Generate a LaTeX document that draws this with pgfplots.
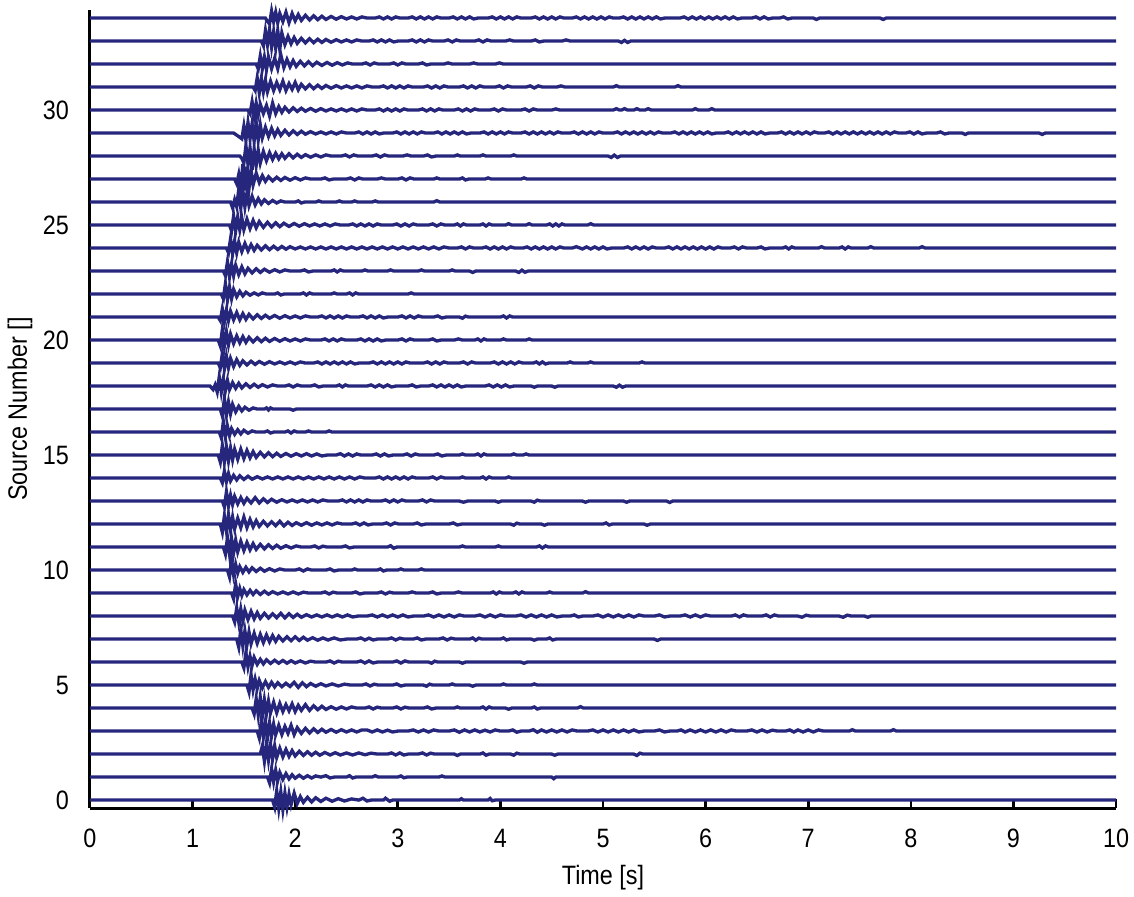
\documentclass[border=0pt]{standalone}
\usepackage{fontspec}
\setmainfont{Liberation Sans}[FakeStretch=0.88]
\usepackage{pgfplots}
\pgfplotsset{compat=1.18}
\definecolor{tracecol}{RGB}{38,38,125}
\pgfplotsset{tr/.style={color=tracecol, line width=1pt}}

\begin{document}
\begin{tikzpicture}
\begin{axis}[
    name=ax,
    scale only axis,
    width=10.857cm, height=8.445cm,
    xmin=0, xmax=10, ymin=-0.35, ymax=34.35,
    axis x line=bottom, axis y line=left,
    axis line style={-, black, line width=0.9pt},
    tick align=inside,
    major tick length=0.1cm,
    tick style={black, line width=0.8pt},
    xtick={0,1,...,10}, ytick={0,5,...,30},
    /pgf/number format/assume math mode=true,
    tick label style={font=\fontsize{8}{10}\selectfont},
    xticklabel style={yshift=-0.1cm},
    yticklabel style={xshift=-0.1cm},
    label style={font=\fontsize{8}{10}\selectfont},
    xlabel={Time [s]},
    ylabel={Source Number []},
    x label style={at={(axis description cs:0.5,0)}, anchor=center, yshift=-0.74cm},
    y label style={at={(axis description cs:0,0.5)}, anchor=center, yshift=0.74cm},
    clip=false,
]

% trace 0
\addplot[tr] coordinates {(0,0)(1.78,0)(1.80,-0.30)(1.82,0.40)(1.84,-0.35)(1.86,0.35)(1.88,-0.40)(1.90,0.30)(1.92,-0.30)(1.94,0.25)(1.96,-0.20)(1.99,0.30)(2.02,-0.15)(2.05,0.15)(2.08,-0.10)(2.12,0.12)(2.16,-0.08)(2.20,0.10)(2.25,-0.06)(2.30,0.08)(2.36,-0.05)(2.42,0.06)(2.48,-0.04)(2.55,0.05)(2.62,0)(2.66,0.08)(2.70,-0.04)(2.74,0)(2.86,0)(2.88,0.08)(2.92,-0.05)(2.95,0)(3.60,0)(3.62,0.06)(3.64,0)(3.88,0)(3.90,0.07)(3.92,-0.03)(3.95,0)(10,0)};
% trace 1
\addplot[tr] coordinates {(0,1)(1.73,1)(1.75,0.75)(1.77,1.35)(1.79,0.80)(1.81,1.30)(1.83,0.85)(1.85,1.20)(1.88,0.90)(1.91,1.15)(1.94,0.92)(1.97,1.10)(2.00,0.95)(2.04,1.08)(2.08,0.95)(2.12,1.06)(2.16,0.96)(2.20,1.05)(2.25,1)(2.30,1.06)(2.34,0.96)(2.38,1)(2.50,1)(2.53,1.06)(2.56,0.96)(2.59,1)(2.75,1)(2.78,1.06)(2.81,1)(3.00,1)(3.03,1.05)(3.06,0.97)(3.09,1)(3.40,1)(3.43,1.05)(3.46,1)(4.50,1)(4.52,0.93)(4.54,1)(10,1)};
% trace 2
\addplot[tr] coordinates {(0,2)(1.66,2)(1.68,2.35)(1.70,1.70)(1.72,2.45)(1.74,1.75)(1.76,2.40)(1.78,1.80)(1.80,2.35)(1.82,1.85)(1.85,2.25)(1.88,1.88)(1.91,2.20)(1.94,1.90)(1.97,2.15)(2.00,1.92)(2.04,2.12)(2.08,1.94)(2.12,2.10)(2.16,1.95)(2.20,2.08)(2.24,1.95)(2.29,2.07)(2.34,1.96)(2.39,2.06)(2.44,1.96)(2.50,2.05)(2.56,1.96)(2.62,2.05)(2.68,1.97)(2.74,2.04)(2.80,2)(2.90,2)(2.94,2.05)(2.98,1.96)(3.02,2.05)(3.06,1.96)(3.10,2)(3.20,2)(3.24,2.05)(3.28,1.96)(3.32,2.04)(3.36,2)(3.55,2)(3.58,1.94)(3.61,2)(3.80,2)(3.83,2.05)(3.86,1.95)(3.89,2)(4.10,2)(4.13,1.95)(4.16,2.04)(4.19,2)(4.50,2)(4.53,1.95)(4.56,2)(5.30,2)(5.33,1.94)(5.36,2.04)(5.39,2)(10,2)};
% trace 3
\addplot[tr] coordinates {(0,3)(1.63,3)(1.65,2.70)(1.67,3.45)(1.69,2.75)(1.71,3.40)(1.73,2.70)(1.75,3.35)(1.77,2.80)(1.79,3.30)(1.81,2.85)(1.84,3.25)(1.87,2.85)(1.90,3.20)(1.93,2.90)(1.96,3.25)(1.99,2.85)(2.02,3.15)(2.06,2.90)(2.10,3.12)(2.14,2.92)(2.18,3.10)(2.22,2.94)(2.26,3.08)(2.30,2.95)(2.35,3.07)(2.40,2.95)(2.45,3.06)(2.50,2.96)(2.55,3.05)(2.60,2.96)(2.65,3.05)(2.70,3.05)(2.75,2.96)(2.80,3.05)(2.85,2.96)(2.90,3.04)(2.95,2.96)(3.00,3)(3.10,3)(3.15,3.05)(3.20,2.96)(3.25,3.05)(3.30,2.96)(3.35,3.05)(3.40,3)(3.50,3)(3.55,3.05)(3.60,2.95)(3.65,3.05)(3.70,2.96)(3.75,3.05)(3.80,2.96)(3.85,3.04)(3.90,2.96)(3.95,3.05)(4.00,3)(4.08,3)(4.12,3.05)(4.16,2.95)(4.20,3)(4.28,3)(4.32,3.06)(4.36,2.95)(4.40,3.05)(4.45,2.96)(4.50,3.05)(4.55,2.96)(4.60,3.05)(4.65,2.96)(4.70,3.05)(4.75,3)(4.85,3)(4.90,3.05)(4.95,2.96)(5.00,3.05)(5.05,2.96)(5.10,3.05)(5.15,2.96)(5.20,3.05)(5.25,2.96)(5.30,3.05)(5.35,2.96)(5.40,3)(5.50,3)(5.55,3.05)(5.60,2.96)(5.65,3)(5.72,3)(5.76,3.05)(5.80,2.96)(5.85,3.05)(5.90,2.96)(5.95,3.05)(6.00,2.96)(6.05,3.05)(6.10,2.96)(6.15,3.05)(6.20,2.96)(6.25,3.05)(6.30,3)(6.40,3)(6.45,3.05)(6.50,2.96)(6.55,3.05)(6.60,2.96)(6.65,3.04)(6.70,3)(6.78,3)(6.82,3.05)(6.86,2.96)(6.90,3.05)(6.95,2.96)(7.00,3.05)(7.05,2.96)(7.10,3.05)(7.15,3)(7.40,3)(7.43,3.06)(7.46,3)(7.80,3)(7.83,3.06)(7.86,3)(10,3)};
% trace 4
\addplot[tr] coordinates {(0,4)(1.58,4)(1.60,3.75)(1.62,4.40)(1.64,3.70)(1.66,4.45)(1.68,3.65)(1.70,4.35)(1.72,3.75)(1.74,4.30)(1.76,3.80)(1.79,4.25)(1.82,3.80)(1.85,4.20)(1.88,3.85)(1.91,4.15)(1.94,3.88)(1.97,4.18)(2.00,3.85)(2.03,4.12)(2.06,3.90)(2.10,4.15)(2.14,3.90)(2.18,4.10)(2.22,3.93)(2.26,4.08)(2.30,3.94)(2.35,4.06)(2.40,3.95)(2.45,4.05)(2.50,3.96)(2.55,4.05)(2.60,4)(2.68,4)(2.72,4.05)(2.76,3.96)(2.80,4.04)(2.84,4)(2.95,4)(2.99,4.05)(3.03,3.96)(3.07,4.04)(3.11,4)(3.25,4)(3.29,4.05)(3.33,3.96)(3.37,4)(3.55,4)(3.58,4.05)(3.61,4)(3.80,4)(3.83,4.05)(3.86,3.96)(3.89,4.05)(3.92,4)(4.05,4)(4.08,3.95)(4.11,4)(4.30,4)(4.33,4.05)(4.36,3.96)(4.39,4)(4.75,4)(4.78,4.06)(4.81,4)(10,4)};
% trace 5
\addplot[tr] coordinates {(0,5)(1.53,5)(1.55,4.70)(1.57,5.45)(1.59,4.80)(1.61,5.25)(1.63,4.85)(1.65,5.20)(1.68,4.88)(1.71,5.15)(1.74,4.90)(1.77,5.12)(1.80,4.92)(1.83,5.10)(1.87,4.93)(1.91,5.08)(1.95,4.94)(1.99,5.12)(2.03,4.90)(2.07,5.10)(2.11,4.93)(2.15,5.07)(2.20,4.95)(2.25,5.06)(2.30,4.96)(2.36,5.05)(2.42,4.96)(2.48,5.04)(2.54,5)(2.65,5)(2.69,5.05)(2.73,4.96)(2.77,5.04)(2.81,5)(2.95,5)(2.99,5.05)(3.03,4.96)(3.07,5)(3.25,5)(3.28,4.95)(3.31,5.04)(3.34,5)(3.50,5)(3.53,5.05)(3.56,5)(3.70,5)(3.73,4.95)(3.76,5)(4.00,5)(4.03,5.05)(4.06,5)(4.30,5)(4.33,5.05)(4.36,5)(10,5)};
% trace 6
\addplot[tr] coordinates {(0,6)(1.48,6)(1.50,5.75)(1.52,6.40)(1.54,5.80)(1.56,6.25)(1.58,5.85)(1.60,6.20)(1.63,5.90)(1.66,6.12)(1.69,5.92)(1.72,6.10)(1.76,5.94)(1.80,6.08)(1.84,5.95)(1.88,6.07)(1.92,5.95)(1.96,6.06)(2.00,5.96)(2.05,6.05)(2.10,5.96)(2.15,6.04)(2.20,6)(2.30,6)(2.34,6.05)(2.38,5.96)(2.42,6.04)(2.46,6)(2.60,6)(2.64,6.05)(2.68,5.96)(2.72,6.05)(2.76,5.96)(2.80,6)(2.95,6)(2.99,6.05)(3.03,5.96)(3.07,6.05)(3.11,6)(3.30,6)(3.33,5.95)(3.36,6.04)(3.39,6)(3.60,6)(3.63,5.95)(3.66,6)(4.20,6)(4.23,5.95)(4.26,6)(10,6)};
% trace 7
\addplot[tr] coordinates {(0,7)(1.43,7)(1.45,6.65)(1.47,7.40)(1.49,6.70)(1.51,7.35)(1.53,6.75)(1.55,7.30)(1.57,6.80)(1.60,7.25)(1.63,6.82)(1.66,7.20)(1.69,6.85)(1.72,7.18)(1.75,6.88)(1.78,7.15)(1.81,6.90)(1.84,7.12)(1.88,6.92)(1.92,7.10)(1.96,6.93)(2.00,7.10)(2.04,6.94)(2.08,7.08)(2.12,6.95)(2.17,7.06)(2.22,6.95)(2.27,7.05)(2.32,6.96)(2.38,7.05)(2.44,6.96)(2.50,7)(2.60,7)(2.64,7.05)(2.68,6.96)(2.72,7.04)(2.76,6.96)(2.80,7)(2.90,7)(2.94,7.05)(2.98,6.96)(3.02,7.04)(3.06,7)(3.15,7)(3.19,7.05)(3.23,6.96)(3.27,7)(3.40,7)(3.44,7.05)(3.48,6.96)(3.52,7.04)(3.56,7)(3.70,7)(3.73,7.05)(3.76,6.95)(3.79,7.04)(3.82,7)(4.00,7)(4.03,7.05)(4.06,6.96)(4.09,7)(4.30,7)(4.33,6.95)(4.36,7)(4.45,7)(4.48,7.05)(4.51,6.96)(4.54,7)(5.50,7)(5.53,6.94)(5.56,7)(10,7)};
% trace 8
\addplot[tr] coordinates {(0,8)(1.39,8)(1.41,7.75)(1.43,8.35)(1.45,7.75)(1.47,8.30)(1.49,7.80)(1.51,8.25)(1.54,7.85)(1.57,8.20)(1.60,7.88)(1.63,8.15)(1.66,7.90)(1.70,8.12)(1.74,7.92)(1.78,8.10)(1.82,7.93)(1.86,8.12)(1.90,7.92)(1.94,8.10)(1.98,7.94)(2.02,8.08)(2.06,7.95)(2.11,8.06)(2.16,7.96)(2.21,8.05)(2.26,7.96)(2.31,8.05)(2.36,7.96)(2.41,8.05)(2.46,7.96)(2.51,8.05)(2.56,7.96)(2.61,8)(2.70,8)(2.75,8.05)(2.80,7.96)(2.85,8.05)(2.90,7.96)(2.95,8.05)(3.00,7.96)(3.05,8.05)(3.10,7.96)(3.15,8)(3.25,8)(3.30,8.05)(3.35,7.96)(3.40,8.05)(3.45,7.96)(3.50,8.05)(3.55,7.96)(3.60,8.05)(3.65,8)(3.75,8)(3.80,8.05)(3.85,7.96)(3.90,8.05)(3.95,7.96)(4.00,8.05)(4.05,8)(4.15,8)(4.20,8.05)(4.25,7.96)(4.30,8.05)(4.35,7.96)(4.40,8.05)(4.45,7.96)(4.50,8.05)(4.55,7.96)(4.60,8)(4.68,8)(4.72,8.05)(4.76,7.96)(4.80,8)(4.90,8)(4.95,8.05)(5.00,7.96)(5.05,8.05)(5.10,7.96)(5.15,8.05)(5.20,7.96)(5.25,8.05)(5.30,7.96)(5.35,8.05)(5.40,8)(5.50,8)(5.55,8.05)(5.60,7.96)(5.65,8)(5.75,8)(5.80,8.05)(5.85,7.96)(5.90,8.05)(5.95,7.96)(6.00,8.05)(6.05,8)(6.25,8)(6.29,8.05)(6.33,7.96)(6.37,8.05)(6.41,8)(6.55,8)(6.59,8.05)(6.63,7.96)(6.67,8.05)(6.71,8)(6.90,8)(6.94,7.95)(6.98,8.04)(7.02,8)(7.30,8)(7.34,7.95)(7.38,8.04)(7.42,8)(7.55,8)(7.58,7.95)(7.61,8)(10,8)};
% trace 9
\addplot[tr] coordinates {(0,9)(1.38,9)(1.40,8.75)(1.42,9.40)(1.44,8.85)(1.46,9.20)(1.48,8.90)(1.50,9.15)(1.53,8.92)(1.56,9.12)(1.59,8.94)(1.62,9.10)(1.66,8.94)(1.70,9.08)(1.74,8.95)(1.78,9.06)(1.83,8.96)(1.88,9.05)(1.93,8.96)(1.98,9.05)(2.03,8.96)(2.08,9.04)(2.13,9)(2.25,9)(2.29,9.05)(2.33,8.96)(2.37,9.04)(2.41,9)(2.55,9)(2.59,9.05)(2.63,8.96)(2.67,9)(2.80,9)(2.84,9.05)(2.88,8.96)(2.92,9.04)(2.96,9)(3.10,9)(3.14,9.05)(3.18,9)(3.30,9)(3.34,9.05)(3.38,8.96)(3.42,9)(3.55,9)(3.59,9.05)(3.63,9)(3.90,9)(3.93,9.05)(3.96,8.96)(3.99,9.05)(4.02,9)(4.12,9)(4.15,9.05)(4.18,8.96)(4.21,9.05)(4.24,9)(4.45,9)(4.48,9.05)(4.51,9)(4.80,9)(4.83,9.06)(4.86,9)(10,9)};
% trace 10
\addplot[tr] coordinates {(0,10)(1.34,10)(1.36,9.70)(1.38,10.45)(1.40,9.80)(1.42,10.25)(1.44,9.88)(1.46,10.15)(1.49,9.90)(1.52,10.12)(1.55,9.92)(1.58,10.10)(1.62,9.94)(1.66,10.08)(1.70,9.95)(1.75,10.06)(1.80,9.96)(1.85,10.05)(1.90,10)(2.00,10)(2.04,10.05)(2.08,9.96)(2.12,10.05)(2.16,10)(2.30,10)(2.34,10.05)(2.38,9.96)(2.42,10)(2.55,10)(2.58,10.05)(2.61,10)(2.80,10)(2.83,10.05)(2.86,9.96)(2.89,10)(3.00,10)(3.03,10.05)(3.06,10)(3.20,10)(3.23,10.05)(3.26,10)(10,10)};
% trace 11
\addplot[tr] coordinates {(0,11)(1.30,11)(1.32,10.70)(1.34,11.40)(1.36,10.70)(1.38,11.35)(1.40,10.75)(1.42,11.30)(1.44,10.80)(1.47,11.25)(1.50,10.85)(1.53,11.20)(1.56,10.88)(1.59,11.15)(1.62,10.90)(1.66,11.12)(1.70,10.92)(1.74,11.10)(1.78,10.94)(1.82,11.08)(1.86,10.95)(1.91,11.06)(1.96,10.96)(2.01,11.05)(2.06,11)(2.15,11)(2.19,11.05)(2.23,10.96)(2.27,11.04)(2.31,11)(2.45,11)(2.49,11.05)(2.53,10.96)(2.57,11)(2.90,11)(2.93,11.06)(2.96,10.95)(2.99,11)(3.60,11)(3.63,11.05)(3.66,11)(3.95,11)(3.98,11.05)(4.01,11)(4.35,11)(4.38,11.05)(4.41,10.96)(4.44,11.05)(4.47,11)(10,11)};
% trace 12
\addplot[tr] coordinates {(0,12)(1.27,12)(1.29,11.65)(1.31,12.35)(1.33,11.70)(1.35,12.40)(1.37,11.75)(1.39,12.30)(1.41,11.80)(1.44,12.25)(1.47,11.85)(1.50,12.30)(1.53,11.85)(1.56,12.20)(1.59,11.88)(1.62,12.15)(1.65,11.90)(1.69,12.12)(1.73,11.92)(1.77,12.10)(1.81,11.93)(1.85,12.12)(1.89,11.92)(1.93,12.08)(1.97,11.94)(2.01,12.06)(2.06,11.95)(2.11,12.06)(2.16,11.95)(2.21,12.05)(2.26,11.96)(2.31,12.05)(2.36,11.96)(2.41,12.05)(2.46,12)(2.55,12)(2.59,12.05)(2.63,11.96)(2.67,12.05)(2.71,11.96)(2.75,12)(2.85,12)(2.89,12.05)(2.93,11.96)(2.97,12.05)(3.01,12)(3.15,12)(3.19,12.05)(3.23,11.96)(3.27,12)(3.50,12)(3.54,12.05)(3.58,11.96)(3.62,12)(4.10,12)(4.13,11.95)(4.16,12.04)(4.19,12)(4.40,12)(4.43,11.95)(4.46,12)(5.00,12)(5.03,12.05)(5.06,11.96)(5.09,12)(5.40,12)(5.43,11.95)(5.46,12)(10,12)};
% trace 13
\addplot[tr] coordinates {(0,13)(1.29,13)(1.31,12.75)(1.33,13.40)(1.35,12.80)(1.37,13.25)(1.39,12.85)(1.41,13.20)(1.44,12.88)(1.47,13.15)(1.50,12.90)(1.53,13.12)(1.57,12.92)(1.61,13.15)(1.65,12.92)(1.69,13.10)(1.73,12.94)(1.77,13.08)(1.82,12.95)(1.87,13.06)(1.92,12.96)(1.97,13.05)(2.02,12.96)(2.07,13.05)(2.12,12.96)(2.17,13.05)(2.22,12.96)(2.27,13.05)(2.32,13)(2.42,13)(2.46,13.05)(2.50,12.96)(2.54,13.05)(2.58,12.96)(2.62,13.05)(2.66,12.96)(2.70,13.05)(2.74,13)(2.84,13)(2.88,13.05)(2.92,12.96)(2.96,13.05)(3.00,12.96)(3.04,13.05)(3.08,13)(3.20,13)(3.24,13.05)(3.28,12.96)(3.32,13.05)(3.36,13)(3.60,13)(3.64,12.95)(3.68,13)(3.95,13)(3.98,12.95)(4.01,13)(4.30,13)(4.33,12.95)(4.36,13.04)(4.39,13)(4.80,13)(4.83,12.95)(4.86,13)(5.20,13)(5.23,12.95)(5.26,13)(5.62,13)(5.65,12.94)(5.68,13)(10,13)};
% trace 14
\addplot[tr] coordinates {(0,14)(1.27,14)(1.29,13.80)(1.31,14.30)(1.33,13.85)(1.35,14.20)(1.37,13.88)(1.40,14.12)(1.43,13.92)(1.46,14.10)(1.50,13.94)(1.54,14.08)(1.58,13.95)(1.63,14.06)(1.68,13.96)(1.73,14.05)(1.78,13.96)(1.83,14.05)(1.88,13.96)(1.93,14.05)(1.98,13.96)(2.03,14.05)(2.08,13.96)(2.13,14.05)(2.18,13.96)(2.23,14.05)(2.28,13.96)(2.33,14.05)(2.38,13.96)(2.43,14.05)(2.48,13.96)(2.53,14.05)(2.58,13.96)(2.63,14.05)(2.68,14)(2.78,14)(2.82,14.05)(2.86,13.96)(2.90,14.05)(2.94,13.96)(2.98,14.05)(3.02,13.96)(3.06,14.05)(3.10,13.96)(3.14,14.05)(3.18,14)(3.30,14)(3.34,14.05)(3.38,13.96)(3.42,14.05)(3.46,14)(3.60,14)(3.63,14.05)(3.66,14)(3.80,14)(3.83,14.05)(3.86,13.96)(3.89,14.05)(3.92,14)(4.05,14)(4.08,14.05)(4.11,14)(10,14)};
% trace 15
\addplot[tr] coordinates {(0,15)(1.25,15)(1.27,14.70)(1.29,15.40)(1.31,14.70)(1.33,15.35)(1.35,14.75)(1.37,15.30)(1.39,14.80)(1.41,15.25)(1.44,14.82)(1.47,15.25)(1.50,14.85)(1.53,15.20)(1.56,14.88)(1.59,15.15)(1.62,14.90)(1.66,15.12)(1.70,14.92)(1.74,15.10)(1.78,14.93)(1.82,15.08)(1.86,14.94)(1.91,15.07)(1.96,14.95)(2.01,15.06)(2.06,14.96)(2.11,15.06)(2.16,14.96)(2.21,15.05)(2.26,14.96)(2.31,15)(2.40,15)(2.44,15.06)(2.48,14.96)(2.52,15.05)(2.56,14.96)(2.60,15.05)(2.64,15)(2.75,15)(2.79,15.05)(2.83,14.96)(2.87,15.05)(2.91,14.96)(2.95,15)(3.05,15)(3.09,15.05)(3.13,14.96)(3.17,15.05)(3.21,15)(3.35,15)(3.39,15.05)(3.43,14.96)(3.47,15)(3.60,15)(3.63,15.05)(3.66,15)(3.75,15)(3.78,15.05)(3.81,14.96)(3.84,15.05)(3.87,15)(4.10,15)(4.13,15.05)(4.16,15)(4.22,15)(4.25,15.05)(4.28,15)(10,15)};
% trace 16
\addplot[tr] coordinates {(0,16)(1.26,16)(1.28,15.75)(1.30,16.45)(1.32,15.80)(1.34,16.25)(1.36,15.85)(1.38,16.15)(1.41,15.90)(1.44,16.10)(1.47,15.92)(1.50,16.08)(1.54,15.95)(1.58,16.05)(1.62,16)(1.70,16)(1.73,16.05)(1.76,15.96)(1.79,16)(1.90,16)(1.93,16.05)(1.96,15.96)(1.99,16.05)(2.02,16)(2.10,16)(2.13,16.05)(2.16,16)(2.30,16)(2.33,16.05)(2.36,16)(10,16)};
% trace 17
\addplot[tr] coordinates {(0,17)(1.27,17)(1.29,16.70)(1.31,17.45)(1.33,16.75)(1.35,17.30)(1.37,16.80)(1.39,17.20)(1.42,16.88)(1.45,17.12)(1.48,16.92)(1.51,17.08)(1.55,16.95)(1.59,17.05)(1.63,17)(1.70,17)(1.72,17.05)(1.74,16.96)(1.76,17.05)(1.78,17)(1.95,17)(1.98,16.95)(2.01,17)(10,17)};
% trace 18
\addplot[tr] coordinates {(0,18)(1.17,18)(1.20,17.85)(1.22,18.05)(1.24,17.75)(1.26,18.40)(1.28,17.75)(1.30,18.30)(1.32,17.80)(1.34,18.25)(1.36,17.85)(1.39,18.15)(1.42,17.90)(1.45,18.12)(1.48,17.92)(1.52,18.10)(1.56,17.94)(1.60,18.08)(1.64,17.95)(1.68,18.06)(1.73,17.96)(1.78,18.05)(1.83,18)(1.90,18)(1.94,18.05)(1.98,17.96)(2.02,18.05)(2.06,18)(2.15,18)(2.19,18.05)(2.23,17.96)(2.27,18)(2.40,18)(2.43,18.05)(2.46,17.96)(2.49,18.05)(2.52,18)(2.70,18)(2.74,18.05)(2.78,17.96)(2.82,18.05)(2.86,17.96)(2.90,18.05)(2.94,17.96)(2.98,18)(3.10,18)(3.14,18.05)(3.18,17.96)(3.22,18)(3.30,18)(3.34,18.05)(3.38,17.96)(3.42,18.05)(3.46,17.96)(3.50,18.05)(3.54,17.96)(3.58,18.05)(3.62,17.96)(3.66,18)(3.85,18)(3.89,18.05)(3.93,17.96)(3.97,18.05)(4.01,17.96)(4.05,18.05)(4.09,17.96)(4.13,18)(4.30,18)(4.33,17.95)(4.36,18)(4.50,18)(4.53,17.95)(4.56,18)(5.10,18)(5.13,17.95)(5.16,18.04)(5.19,17.95)(5.22,18)(10,18)};
% trace 19
\addplot[tr] coordinates {(0,19)(1.25,19)(1.27,18.80)(1.29,19.40)(1.31,18.75)(1.33,19.30)(1.35,18.80)(1.37,19.20)(1.40,18.85)(1.43,19.15)(1.46,18.90)(1.49,19.10)(1.53,18.92)(1.57,19.08)(1.61,18.94)(1.65,19.07)(1.70,18.95)(1.75,19.06)(1.80,18.96)(1.85,19.05)(1.90,18.96)(1.95,19.05)(2.00,18.96)(2.05,19.05)(2.10,19)(2.18,19)(2.22,19.05)(2.26,18.96)(2.30,19.05)(2.34,18.96)(2.38,19.05)(2.42,18.96)(2.46,19.05)(2.50,18.96)(2.54,19.05)(2.58,18.96)(2.62,19)(2.72,19)(2.76,19.05)(2.80,18.96)(2.84,19.05)(2.88,18.96)(2.92,19.05)(2.96,18.96)(3.00,19.05)(3.04,18.96)(3.08,19.05)(3.12,19)(3.25,19)(3.29,19.05)(3.33,18.96)(3.37,19.05)(3.41,18.96)(3.45,19.05)(3.49,19)(3.60,19)(3.64,19.05)(3.68,18.96)(3.72,19.05)(3.76,19)(3.90,19)(3.94,19.05)(3.98,18.96)(4.02,19.05)(4.06,18.96)(4.10,19.05)(4.14,18.96)(4.18,19.05)(4.22,19)(4.32,19)(4.35,19.05)(4.38,18.96)(4.41,19.05)(4.44,18.96)(4.47,19)(4.65,19)(4.68,19.05)(4.71,19)(4.85,19)(4.88,19.05)(4.91,19)(5.35,19)(5.38,19.05)(5.41,19)(10,19)};
% trace 20
\addplot[tr] coordinates {(0,20)(1.25,20)(1.27,19.75)(1.29,20.45)(1.31,19.75)(1.33,20.35)(1.35,19.80)(1.37,20.25)(1.40,19.85)(1.43,20.18)(1.46,19.88)(1.49,20.15)(1.52,19.90)(1.55,20.12)(1.59,19.92)(1.63,20.10)(1.67,19.93)(1.71,20.08)(1.75,19.94)(1.80,20.07)(1.85,19.95)(1.90,20.06)(1.95,19.96)(2.00,20.05)(2.05,19.96)(2.10,20.05)(2.15,20)(2.25,20)(2.29,20.05)(2.33,19.96)(2.37,20.05)(2.41,19.96)(2.45,20.05)(2.49,20)(2.60,20)(2.64,20.05)(2.68,19.96)(2.72,20.05)(2.76,19.96)(2.80,20.05)(2.84,19.96)(2.88,20)(3.00,20)(3.04,20.05)(3.08,19.96)(3.12,20.05)(3.16,20)(3.30,20)(3.34,20.05)(3.38,19.96)(3.42,20)(3.55,20)(3.59,20.05)(3.63,20)(3.75,20)(3.78,20.05)(3.81,19.96)(3.84,20.05)(3.87,20)(4.00,20)(4.03,20.05)(4.06,20)(4.25,20)(4.28,20.05)(4.31,20)(10,20)};
% trace 21
\addplot[tr] coordinates {(0,21)(1.25,21)(1.27,20.85)(1.29,21.35)(1.31,20.80)(1.33,21.30)(1.35,20.85)(1.37,21.25)(1.40,20.88)(1.43,21.20)(1.46,20.88)(1.49,21.15)(1.52,20.90)(1.55,21.12)(1.59,20.92)(1.63,21.10)(1.67,20.94)(1.71,21.08)(1.75,20.95)(1.80,21.07)(1.85,20.95)(1.90,21.06)(1.95,20.96)(2.00,21.05)(2.05,20.96)(2.10,21.05)(2.15,21)(2.22,21)(2.26,21.05)(2.30,20.96)(2.34,21.05)(2.38,20.96)(2.42,21.05)(2.46,20.96)(2.50,21.05)(2.54,21)(2.62,21)(2.66,21.05)(2.70,20.96)(2.74,21.05)(2.78,20.96)(2.82,21.05)(2.86,20.96)(2.90,21)(3.00,21)(3.04,21.05)(3.08,20.96)(3.12,21.05)(3.16,20.96)(3.20,21.05)(3.24,21)(3.35,21)(3.39,21.05)(3.43,20.96)(3.47,21)(3.60,21)(3.63,20.95)(3.66,21.04)(3.69,21)(4.00,21)(4.03,21.05)(4.06,20.96)(4.09,21.05)(4.12,21)(10,21)};
% trace 22
\addplot[tr] coordinates {(0,22)(1.28,22)(1.30,21.80)(1.32,22.45)(1.34,21.75)(1.36,22.30)(1.38,21.80)(1.40,22.20)(1.43,21.88)(1.46,22.12)(1.49,21.92)(1.52,22.08)(1.56,21.95)(1.60,22.05)(1.64,21.96)(1.68,22.05)(1.72,22)(1.80,22)(1.83,22.05)(1.86,21.96)(1.89,22)(2.05,22)(2.08,22.05)(2.11,21.96)(2.14,22.05)(2.17,22)(2.35,22)(2.38,22.05)(2.41,22)(2.50,22)(2.53,22.05)(2.56,21.96)(2.59,22.05)(2.62,22)(3.10,22)(3.13,22.05)(3.16,22)(10,22)};
% trace 23
\addplot[tr] coordinates {(0,23)(1.30,23)(1.32,22.80)(1.34,23.40)(1.36,22.75)(1.38,23.30)(1.40,22.80)(1.42,23.25)(1.45,22.85)(1.48,23.18)(1.51,22.88)(1.54,23.12)(1.58,22.92)(1.62,23.10)(1.66,22.94)(1.70,23.08)(1.75,22.95)(1.80,23.06)(1.85,22.96)(1.90,23.05)(1.95,23)(2.05,23)(2.09,23.05)(2.13,22.96)(2.17,23)(2.35,23)(2.38,23.05)(2.41,22.96)(2.44,23.05)(2.47,23)(2.65,23)(2.68,23.05)(2.71,23)(2.90,23)(2.93,23.05)(2.96,23)(3.20,23)(3.23,23.05)(3.26,23)(3.50,23)(3.53,23.05)(3.56,23)(3.70,23)(3.73,22.94)(3.76,23)(4.15,23)(4.18,22.94)(4.21,23.04)(4.24,22.95)(4.27,23)(10,23)};
% trace 24
\addplot[tr] coordinates {(0,24)(1.33,24)(1.35,23.80)(1.37,24.40)(1.39,23.75)(1.41,24.30)(1.43,23.80)(1.45,24.25)(1.48,23.85)(1.51,24.20)(1.54,23.88)(1.57,24.15)(1.60,23.90)(1.63,24.12)(1.67,23.92)(1.71,24.10)(1.75,23.93)(1.79,24.08)(1.83,23.94)(1.87,24.07)(1.91,23.95)(1.95,24.06)(2.00,23.96)(2.05,24.05)(2.10,23.96)(2.15,24.05)(2.20,23.96)(2.25,24.05)(2.30,23.96)(2.35,24.05)(2.40,23.96)(2.45,24.05)(2.50,23.96)(2.55,24.05)(2.60,23.96)(2.65,24.05)(2.70,23.96)(2.75,24.05)(2.80,23.96)(2.85,24.05)(2.90,23.96)(2.95,24.05)(3.00,23.96)(3.05,24.05)(3.10,23.96)(3.15,24.05)(3.20,23.96)(3.25,24.05)(3.30,23.96)(3.35,24.05)(3.40,23.96)(3.45,24.05)(3.50,24)(3.58,24)(3.62,24.05)(3.66,23.96)(3.70,24.05)(3.74,24)(3.82,24)(3.86,24.05)(3.90,23.96)(3.94,24.05)(3.98,23.96)(4.02,24.05)(4.06,23.96)(4.10,24.05)(4.14,24)(4.22,24)(4.26,24.05)(4.30,23.96)(4.34,24.05)(4.38,23.96)(4.42,24.05)(4.46,23.96)(4.50,24.05)(4.54,23.96)(4.58,24.05)(4.62,24)(4.70,24)(4.74,24.06)(4.80,23.96)(4.84,24.05)(4.88,23.96)(4.92,24.05)(4.96,23.96)(5.00,24.05)(5.04,23.96)(5.08,24)(5.20,24)(5.24,24.05)(5.28,23.96)(5.32,24.05)(5.36,23.96)(5.40,24.05)(5.44,23.96)(5.48,24.05)(5.52,24)(5.60,24)(5.64,24.05)(5.68,23.96)(5.72,24.05)(5.76,23.96)(5.80,24.05)(5.84,23.96)(5.88,24.05)(5.92,23.96)(5.96,24.05)(6.00,23.96)(6.04,24.05)(6.08,23.96)(6.12,24.05)(6.16,24)(6.24,24)(6.28,24.05)(6.32,23.96)(6.36,24.05)(6.40,24)(6.50,24)(6.54,24.05)(6.58,23.96)(6.62,24)(6.75,24)(6.78,24.05)(6.81,23.96)(6.84,24.05)(6.87,24)(7.10,24)(7.13,24.06)(7.16,24)(7.30,24)(7.33,24.05)(7.36,23.96)(7.39,24.05)(7.42,24)(7.58,24)(7.61,24.06)(7.64,24)(8.08,24)(8.11,24.06)(8.14,24)(10,24)};
% trace 25
\addplot[tr] coordinates {(0,25)(1.36,25)(1.38,24.75)(1.40,25.40)(1.42,24.75)(1.44,25.35)(1.46,24.80)(1.48,25.30)(1.50,24.80)(1.53,25.25)(1.56,24.85)(1.59,25.20)(1.62,24.88)(1.65,25.15)(1.69,24.90)(1.73,25.12)(1.77,24.92)(1.81,25.10)(1.85,24.93)(1.89,25.08)(1.94,24.94)(1.99,25.07)(2.04,24.95)(2.09,25.06)(2.14,24.96)(2.19,25.05)(2.24,24.96)(2.29,25.05)(2.34,24.96)(2.39,25.05)(2.44,25)(2.52,25)(2.56,25.05)(2.60,24.96)(2.64,25.05)(2.68,24.96)(2.72,25.05)(2.76,24.96)(2.80,25.05)(2.84,25)(2.95,25)(2.99,25.05)(3.03,24.96)(3.07,25.05)(3.11,24.96)(3.15,25.05)(3.19,25)(3.30,25)(3.34,25.05)(3.38,24.96)(3.42,25.05)(3.46,25)(3.55,25)(3.58,25.05)(3.61,24.96)(3.64,25.05)(3.67,25)(3.80,25)(3.83,25.05)(3.86,24.96)(3.89,25.05)(3.92,25)(4.05,25)(4.08,25.06)(4.11,25)(4.25,25)(4.28,25.06)(4.31,25)(4.45,25)(4.48,25.05)(4.51,24.96)(4.54,25.05)(4.57,24.96)(4.60,25.05)(4.63,25)(4.85,25)(4.88,25.06)(4.91,25)(10,25)};
% trace 26
\addplot[tr] coordinates {(0,26)(1.37,26)(1.39,25.75)(1.41,26.10)(1.43,25.80)(1.45,26.55)(1.47,25.75)(1.49,26.50)(1.51,25.80)(1.53,26.40)(1.55,25.85)(1.58,26.25)(1.61,25.88)(1.64,26.15)(1.67,25.92)(1.70,26.10)(1.74,25.94)(1.78,26.07)(1.82,25.96)(1.86,26.05)(1.90,26)(2.00,26)(2.03,26.05)(2.06,25.96)(2.09,26)(2.20,26)(2.23,26.05)(2.26,26)(2.40,26)(2.43,26.05)(2.46,26)(2.55,26)(2.58,26.05)(2.61,26)(2.75,26)(2.78,26.05)(2.81,26)(3.35,26)(3.38,26.06)(3.41,26)(10,26)};
% trace 27
\addplot[tr] coordinates {(0,27)(1.41,27)(1.43,26.80)(1.45,27.20)(1.47,26.60)(1.49,27.65)(1.51,26.50)(1.53,27.55)(1.55,26.60)(1.57,27.40)(1.59,26.75)(1.62,27.25)(1.65,26.85)(1.68,27.15)(1.71,26.90)(1.74,27.10)(1.78,26.92)(1.82,27.08)(1.86,26.94)(1.90,27.07)(1.95,26.95)(2.00,27.06)(2.05,26.96)(2.10,27.05)(2.15,27)(2.25,27)(2.29,27.05)(2.33,26.96)(2.37,27)(2.50,27)(2.54,27.05)(2.58,26.96)(2.62,27.05)(2.66,27)(2.80,27)(2.84,27.05)(2.88,27)(3.00,27)(3.04,27.05)(3.08,26.96)(3.12,27.05)(3.16,27)(3.35,27)(3.38,27.05)(3.41,27)(3.60,27)(3.63,27.05)(3.66,26.96)(3.69,27)(3.85,27)(3.88,27.05)(3.91,27)(4.20,27)(4.23,27.05)(4.26,27)(10,27)};
% trace 28
\addplot[tr] coordinates {(0,28)(1.46,28)(1.48,27.90)(1.50,27.70)(1.52,28.45)(1.54,27.65)(1.56,28.35)(1.58,27.40)(1.60,28.30)(1.62,27.60)(1.64,28.25)(1.66,27.70)(1.69,28.20)(1.72,27.80)(1.75,28.15)(1.78,27.85)(1.81,28.12)(1.84,27.88)(1.87,28.10)(1.90,27.90)(1.94,28.10)(1.98,27.92)(2.02,28.08)(2.06,27.94)(2.10,28.06)(2.15,27.95)(2.20,28.05)(2.25,27.96)(2.30,28.05)(2.35,28)(2.45,28)(2.49,28.05)(2.53,27.96)(2.57,28.05)(2.61,28)(2.75,28)(2.79,28.05)(2.83,27.96)(2.87,28.05)(2.91,28)(3.05,28)(3.09,28.05)(3.13,28)(3.25,28)(3.29,28.05)(3.33,27.96)(3.37,28)(3.55,28)(3.58,28.05)(3.61,28)(3.80,28)(3.83,28.05)(3.86,28)(4.10,28)(4.13,28.05)(4.16,28)(5.05,28)(5.08,27.94)(5.11,28.04)(5.14,27.94)(5.17,28)(10,28)};
% trace 29
\addplot[tr] coordinates {(0,29)(1.40,29)(1.45,28.85)(1.48,28.75)(1.50,29.30)(1.52,28.70)(1.54,29.45)(1.56,28.75)(1.58,29.40)(1.60,28.65)(1.62,29.45)(1.64,28.70)(1.66,29.35)(1.68,28.80)(1.71,29.25)(1.74,28.85)(1.77,29.20)(1.80,28.88)(1.83,29.15)(1.86,28.90)(1.90,29.12)(1.94,28.92)(1.98,29.10)(2.02,28.94)(2.06,29.08)(2.10,28.95)(2.15,29.06)(2.20,28.96)(2.25,29.05)(2.30,28.96)(2.35,29.05)(2.40,28.96)(2.45,29.05)(2.50,29)(2.58,29)(2.62,29.05)(2.66,28.96)(2.70,29.05)(2.74,28.96)(2.78,29.05)(2.82,28.96)(2.86,29)(2.95,29)(2.99,29.05)(3.03,28.96)(3.07,29.05)(3.11,28.96)(3.15,29.05)(3.19,28.96)(3.23,29.05)(3.27,29)(3.35,29)(3.39,29.05)(3.43,28.96)(3.47,29.05)(3.51,28.96)(3.55,29.05)(3.59,28.96)(3.63,29.05)(3.67,28.96)(3.71,29)(3.80,29)(3.84,29.05)(3.88,28.96)(3.92,29.05)(3.96,28.96)(4.00,29.05)(4.04,28.96)(4.08,29.05)(4.12,29)(4.20,29)(4.24,29.05)(4.28,28.96)(4.32,29.05)(4.36,28.96)(4.40,29.05)(4.44,28.96)(4.48,29.05)(4.52,28.96)(4.56,29.05)(4.60,29)(4.68,29)(4.72,29.05)(4.76,28.96)(4.80,29.05)(4.84,28.96)(4.88,29.05)(4.92,28.96)(4.96,29.05)(5.00,29)(5.10,29)(5.14,29.05)(5.18,28.96)(5.22,29.05)(5.26,28.96)(5.30,29.05)(5.34,28.96)(5.38,29.05)(5.42,28.96)(5.46,29.05)(5.50,28.96)(5.54,29.05)(5.58,29)(5.66,29)(5.70,29.05)(5.74,28.96)(5.78,29.05)(5.82,28.96)(5.86,29.05)(5.90,28.96)(5.94,29.05)(5.98,28.96)(6.02,29.05)(6.06,28.96)(6.10,29)(6.18,29)(6.22,29.05)(6.26,28.96)(6.30,29.05)(6.34,28.96)(6.38,29.05)(6.42,28.96)(6.46,29.05)(6.50,28.96)(6.54,29.05)(6.58,28.96)(6.62,29)(6.70,29)(6.74,29.05)(6.78,28.96)(6.82,29.05)(6.86,28.96)(6.90,29.05)(6.94,28.96)(6.98,29.05)(7.02,28.96)(7.06,29.05)(7.10,29)(7.16,29)(7.20,29.05)(7.24,28.96)(7.28,29.05)(7.32,28.96)(7.36,29.05)(7.40,28.96)(7.44,29.05)(7.48,28.96)(7.52,29.05)(7.56,28.96)(7.60,29.05)(7.64,28.96)(7.68,29.05)(7.72,28.96)(7.76,29.05)(7.80,28.96)(7.84,29.05)(7.88,29)(7.95,29)(7.99,29.05)(8.03,28.96)(8.07,29.05)(8.11,28.96)(8.15,29)(8.25,29)(8.29,29.05)(8.33,28.96)(8.37,29)(8.50,29)(8.53,28.94)(8.56,29)(9.25,29)(9.28,28.94)(9.31,29)(10,29)};
% trace 30
\addplot[tr] coordinates {(0,30)(1.54,30)(1.56,29.85)(1.58,30.35)(1.60,29.75)(1.62,30.30)(1.64,29.80)(1.66,30.25)(1.69,29.85)(1.72,30.20)(1.75,29.75)(1.78,30.30)(1.81,29.85)(1.84,30.15)(1.87,29.90)(1.90,30.12)(1.94,29.92)(1.98,30.10)(2.02,29.94)(2.06,30.08)(2.10,29.95)(2.15,30.07)(2.20,29.95)(2.25,30.06)(2.30,29.96)(2.35,30.05)(2.40,29.96)(2.45,30.05)(2.50,29.96)(2.55,30.05)(2.60,29.96)(2.65,30.05)(2.70,30)(2.78,30)(2.82,30.05)(2.86,29.96)(2.90,30.05)(2.94,29.96)(2.98,30.05)(3.02,29.96)(3.06,30.05)(3.10,30)(3.20,30)(3.24,30.05)(3.28,29.96)(3.32,30.05)(3.36,29.96)(3.40,30.05)(3.44,30)(3.55,30)(3.59,30.05)(3.63,29.96)(3.67,30.05)(3.71,29.96)(3.75,30.05)(3.79,30)(3.90,30)(3.94,30.05)(3.98,29.96)(4.02,30.05)(4.06,30)(4.20,30)(4.24,30.05)(4.28,29.96)(4.32,30.05)(4.36,30)(4.50,30)(4.54,30.05)(4.58,30)(5.10,30)(5.13,30.06)(5.16,30)(5.18,30)(5.21,30.06)(5.24,30)(5.30,30)(5.33,30.06)(5.36,30)(5.41,30)(5.44,30.06)(5.47,30)(5.87,30)(5.90,30.06)(5.93,30)(6.03,30)(6.06,30.06)(6.09,30)(10,30)};
% trace 31
\addplot[tr] coordinates {(0,31)(1.59,31)(1.61,30.85)(1.63,31.40)(1.65,30.75)(1.67,31.35)(1.69,30.80)(1.71,31.30)(1.73,30.80)(1.76,31.25)(1.79,30.85)(1.82,31.20)(1.85,30.88)(1.88,31.25)(1.91,30.85)(1.94,31.15)(1.97,30.90)(2.00,31.20)(2.03,30.88)(2.06,31.12)(2.10,30.92)(2.14,31.10)(2.18,30.93)(2.22,31.08)(2.26,30.94)(2.30,31.07)(2.35,30.95)(2.40,31.06)(2.45,30.96)(2.50,31.05)(2.55,30.96)(2.60,31.05)(2.65,30.96)(2.70,31.05)(2.75,31)(2.82,31)(2.86,31.05)(2.90,30.96)(2.94,31.05)(2.98,30.96)(3.02,31.05)(3.06,30.96)(3.10,31.05)(3.14,31)(3.25,31)(3.29,31.05)(3.33,30.96)(3.37,31.05)(3.41,30.96)(3.45,31.05)(3.49,31)(3.60,31)(3.64,31.05)(3.68,30.96)(3.72,31.05)(3.76,30.96)(3.80,31.05)(3.84,31)(3.95,31)(3.99,31.05)(4.03,30.96)(4.07,31.05)(4.11,31)(4.25,31)(4.29,31.05)(4.33,30.96)(4.37,31.05)(4.41,31)(4.55,31)(4.59,31.05)(4.63,31)(5.10,31)(5.13,31.06)(5.16,31)(5.70,31)(5.73,31.06)(5.76,31)(10,31)};
% trace 32
\addplot[tr] coordinates {(0,32)(1.62,32)(1.64,31.80)(1.66,32.35)(1.68,31.80)(1.70,32.30)(1.72,31.75)(1.74,32.30)(1.77,31.80)(1.80,32.25)(1.83,31.80)(1.86,32.40)(1.89,31.85)(1.92,32.20)(1.95,31.88)(1.98,32.15)(2.01,31.90)(2.05,32.12)(2.09,31.92)(2.13,32.10)(2.17,31.93)(2.21,32.08)(2.26,31.94)(2.31,32.07)(2.36,31.95)(2.41,32.06)(2.46,31.96)(2.51,32.05)(2.56,32)(2.65,32)(2.69,32.05)(2.73,31.96)(2.77,32.05)(2.81,32)(2.92,32)(2.96,32.05)(3.00,31.96)(3.04,32.05)(3.08,32)(3.20,32)(3.24,32.05)(3.28,31.96)(3.32,32)(3.45,32)(3.49,32.05)(3.53,32)(3.70,32)(3.74,32.05)(3.78,32)(3.95,32)(3.99,32.05)(4.03,32)(10,32)};
% trace 33
\addplot[tr] coordinates {(0,33)(1.67,33)(1.69,32.80)(1.71,33.45)(1.73,32.85)(1.75,33.50)(1.77,32.75)(1.79,33.40)(1.81,32.70)(1.83,33.45)(1.85,32.65)(1.87,33.35)(1.90,32.85)(1.93,33.20)(1.96,32.88)(1.99,33.15)(2.02,32.90)(2.06,33.12)(2.10,32.92)(2.14,33.10)(2.18,32.93)(2.22,33.08)(2.26,32.94)(2.30,33.07)(2.35,32.95)(2.40,33.06)(2.45,32.96)(2.50,33.05)(2.55,32.96)(2.60,33.05)(2.65,33)(2.72,33)(2.76,33.05)(2.80,32.96)(2.84,33.05)(2.88,32.96)(2.92,33.05)(2.96,32.96)(3.00,33)(3.10,33)(3.14,33.05)(3.18,32.96)(3.22,33.05)(3.26,32.96)(3.30,33.05)(3.34,33)(3.45,33)(3.49,33.05)(3.53,32.96)(3.57,33.05)(3.61,33)(3.75,33)(3.79,33.05)(3.83,32.96)(3.87,33.05)(3.91,33)(4.05,33)(4.09,33.05)(4.13,33)(4.30,33)(4.34,33.05)(4.38,32.96)(4.42,33)(4.60,33)(4.64,33.05)(4.68,33)(5.15,33)(5.18,32.94)(5.21,33.03)(5.24,32.94)(5.27,33)(10,33)};
% trace 34
\addplot[tr] coordinates {(0,34)(1.71,34)(1.73,33.85)(1.75,33.75)(1.77,34.30)(1.79,33.85)(1.81,34.25)(1.83,33.80)(1.85,34.20)(1.88,33.85)(1.91,34.25)(1.94,33.80)(1.97,34.20)(2.00,33.88)(2.03,34.15)(2.06,33.90)(2.10,34.12)(2.14,33.92)(2.18,34.10)(2.22,33.93)(2.26,34.08)(2.30,33.94)(2.35,34.07)(2.40,33.95)(2.45,34.06)(2.50,33.96)(2.55,34.05)(2.60,33.96)(2.65,34.05)(2.70,34)(2.78,34)(2.82,34.05)(2.86,33.96)(2.90,34.05)(2.94,33.96)(2.98,34.05)(3.02,34)(3.10,34)(3.14,34.05)(3.18,33.96)(3.22,34.05)(3.26,33.96)(3.30,34.05)(3.34,33.96)(3.38,34.05)(3.42,34)(3.50,34)(3.54,34.05)(3.58,33.96)(3.62,34.05)(3.66,33.96)(3.70,34.05)(3.74,33.96)(3.78,34)(3.88,34)(3.92,34.05)(3.96,33.96)(4.00,34.05)(4.04,33.96)(4.08,34.05)(4.12,33.96)(4.16,34.05)(4.20,34)(4.30,34)(4.34,34.05)(4.38,33.96)(4.42,34.05)(4.46,33.96)(4.50,34.05)(4.54,33.96)(4.58,34.05)(4.62,34)(4.70,34)(4.74,34.05)(4.78,33.96)(4.82,34.05)(4.86,33.96)(4.90,34.05)(4.94,33.96)(4.98,34.05)(5.02,33.96)(5.06,34.05)(5.10,34)(5.16,34)(5.20,34.05)(5.24,33.96)(5.28,34.05)(5.32,33.96)(5.36,34.05)(5.40,33.96)(5.44,34.05)(5.48,33.96)(5.52,34.05)(5.56,33.96)(5.60,34)(5.75,34)(5.79,34.05)(5.83,33.96)(5.87,34.05)(5.91,33.96)(5.95,34.05)(5.99,33.96)(6.03,34.05)(6.07,33.96)(6.11,34.05)(6.15,33.96)(6.19,34.05)(6.23,33.96)(6.27,34.05)(6.31,33.96)(6.35,34)(6.45,34)(6.49,34.05)(6.53,33.96)(6.57,34.05)(6.61,33.96)(6.65,34)(6.72,34)(6.76,34.05)(6.80,33.96)(6.84,34)(7.05,34)(7.08,33.94)(7.11,34)(7.70,34)(7.73,33.94)(7.76,34)(10,34)};

\end{axis}
\pgfresetboundingbox
\path[use as bounding box] ([xshift=-0.952cm,yshift=-0.931cm]ax.south west) rectangle ([xshift=0.19cm,yshift=0.106cm]ax.north east);
\end{tikzpicture}
\end{document}
